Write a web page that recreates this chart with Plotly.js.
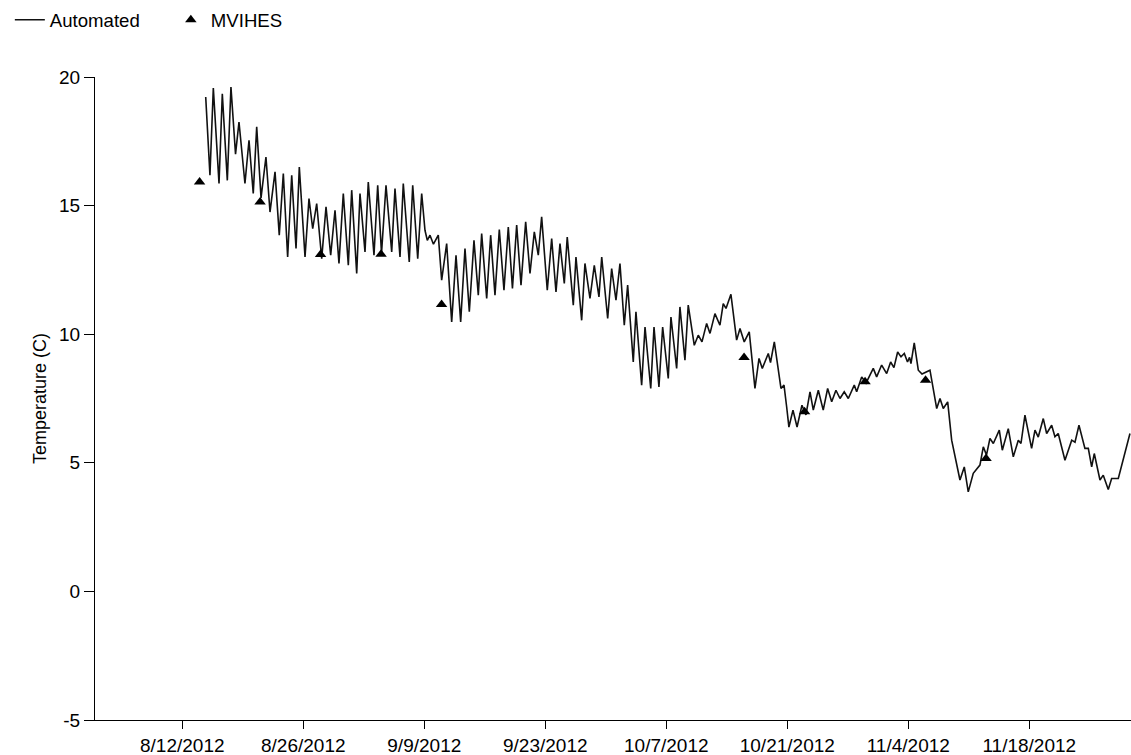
<!DOCTYPE html>
<html>
<head>
<meta charset="utf-8">
<script src="https://cdn.plot.ly/plotly-3.0.1.min.js"></script>
<style>
html,body{margin:0;padding:0;background:#fff;}
#chart{width:1131px;height:755px;}
</style>
</head>
<body>
<div id="chart"></div>
<script>
// Automated logger: turning points, as days after 2012-08-12 00:00
const autoDay = [2.71,3.20,3.59,4.25,4.63,5.21,5.63,6.16,6.56,7.25,7.72,8.21,8.61,9.11,9.68,10.15,10.73,11.22,11.69,12.19,
12.66,13.16,13.54,14.20,14.66,15.09,15.55,16.13,16.63,17.17,17.67,18.13,18.63,19.21,19.60,
20.18,20.56,21.14,21.52,22.18,22.61,23.05,23.57,24.23,24.61,25.19,25.57,26.26,26.66,27.24,27.70,28.08,28.35,28.66,29.06,
29.62,30.01,30.59,31.17,31.67,32.21,32.71,33.21,33.75,34.25,34.64,35.22,35.68,36.18,36.68,37.22,37.72,38.20,38.69,
39.19,39.73,40.23,40.73,41.19,41.58,42.23,42.74,43.24,43.70,44.20,44.54,45.24,45.55,46.21,46.59,47.17,47.67,48.21,48.53,
49.22,49.68,50.18,50.64,51.14,51.53,52.18,52.49,53.15,53.54,54.20,54.58,55.15,55.58,
56.23,56.54,57.20,57.58,58.16,58.54,59.24,59.70,60.13,60.67,61.06,61.63,62.21,62.59,62.91,63.17,63.48,64.14,64.53,65.02,
65.60,66.26,66.73,67.11,67.80,68.06,68.50,69.27,69.62,69.93,70.19,70.66,71.13,71.70,72.16,
72.63,73.01,73.59,74.16,74.67,75.14,75.63,76.10,76.59,77.06,77.75,78.03,78.61,79.11,79.95,80.34,80.92,81.50,81.96,82.34,
82.77,83.16,83.54,83.91,84.15,84.31,84.69,85.16,85.59,86.51,87.29,87.67,88.05,88.56,89.02,
89.40,89.98,90.48,90.94,91.52,92.29,92.68,93.05,93.45,93.84,94.53,94.88,95.57,96.15,96.73,97.04,97.50,98.27,98.66,99.04,
99.62,100.01,100.59,100.97,101.35,102.13,102.91,103.29,103.75,104.44,104.83,105.22,105.52,106.18,106.56,107.14,107.53,108.30,109.65];

const autoTemp = [19.22,16.18,19.57,15.86,19.35,15.98,19.61,17.0,18.25,15.86,17.54,15.47,18.06,15.3,16.89,14.75,16.31,13.85,16.25,13.0,
16.18,13.33,16.5,13.0,15.27,14.1,15.08,12.94,14.95,13.07,14.82,12.75,15.47,12.68,15.6,
12.36,15.47,13.2,15.92,13.07,15.79,13.14,15.79,13.2,15.66,13.0,15.86,12.81,15.79,12.94,15.47,14.04,13.65,13.85,13.5,
13.85,12.1,13.52,10.48,13.07,10.48,13.33,10.87,13.65,11.52,13.91,11.39,13.85,11.52,14.07,11.71,14.17,11.78,14.24,
11.91,14.37,12.36,13.98,13.07,14.56,11.71,13.72,11.64,13.52,11.97,13.78,11.13,13.0,10.54,12.75,11.39,12.68,11.45,13.0,
10.61,12.55,11.32,12.75,10.35,11.91,8.92,10.87,8.02,10.28,7.89,10.28,7.95,10.28,
8.28,10.67,8.67,11.06,8.99,11.13,9.57,9.96,9.7,10.42,10.03,10.8,10.35,11.19,11.0,11.26,11.55,9.77,10.22,9.7,
10.09,7.89,9.06,8.67,9.25,8.9,9.7,7.89,8.02,7.17,6.39,7.05,6.39,7.24,6.86,
7.76,7.05,7.82,7.05,7.89,7.37,7.82,7.5,7.76,7.5,8.02,7.76,8.34,8.1,8.67,8.34,8.8,8.47,8.92,8.7,
9.31,9.12,9.25,8.92,9.1,8.86,9.66,8.6,8.45,8.6,7.11,7.5,7.11,7.37,5.88,
5.3,4.33,4.84,3.87,4.59,4.91,5.62,5.3,5.95,5.75,6.27,5.49,6.33,5.23,5.88,5.75,6.85,5.56,6.27,6.0,
6.72,6.14,6.46,6.01,6.14,5.1,5.88,5.8,6.46,5.56,5.56,4.84,5.36,4.33,4.52,3.96,4.39,4.39,6.14];

// MVIHES manual measurements
const mvihesDate = ['2012-08-14','2012-08-21','2012-08-28','2012-09-04','2012-09-11',
                    '2012-10-16','2012-10-23','2012-10-30','2012-11-06','2012-11-13'];
const mvihesTemp = [15.92,15.14,13.10,13.11,11.15,9.09,6.98,8.15,8.21,5.17];

const tickDates = ['2012-08-12','2012-08-26','2012-09-09','2012-09-23','2012-10-07','2012-10-21','2012-11-04','2012-11-18'];
const tickLabels = ['8/12/2012','8/26/2012','9/9/2012','9/23/2012','10/7/2012','10/21/2012','11/4/2012','11/18/2012'];
const yTickVals = [-5, 0, 5, 10, 15, 20];
const yTickLabels = ['-5', '0', '5', '10', '15', '20'];

const BASE = Date.UTC(2012, 7, 12);
function dayToStr(d) {
  return new Date(BASE + d * 86400000).toISOString().slice(0, 19).replace('T', ' ');
}
const autoX = autoDay.map(dayToStr);

const FONT = 'Liberation Sans, Arial, sans-serif';

const traces = [
  {
    x: autoX, y: autoTemp, type: 'scatter', mode: 'lines', name: 'Automated',
    line: {color: '#111', width: 1.6}
  },
  {
    x: mvihesDate, y: mvihesTemp, type: 'scatter', mode: 'markers', name: 'MVIHES',
    marker: {symbol: 'triangle-up', size: 10, color: '#000'}
  }
];

const layout = {
  width: 1131, height: 755,
  margin: {l: 95, r: 0, t: 77, b: 35},
  paper_bgcolor: '#fff', plot_bgcolor: '#fff',
  font: {family: FONT, color: '#000', size: 18},
  showlegend: true,
  legend: {
    orientation: 'h', x: -0.0822, y: 1.118, xanchor: 'left', yanchor: 'top',
    font: {family: FONT, size: 18.6, color: '#000'},
    itemwidth: 30, entrywidth: 116, tracegroupgap: 0
  },
  xaxis: {
    type: 'date',
    range: [dayToStr(-10.1), dayToStr(109.77)],
    tickvals: tickDates, ticktext: tickLabels,
    ticks: 'outside', ticklen: 8, tickcolor: '#000', tickwidth: 1,
    showline: true, linecolor: '#000', linewidth: 1,
    showgrid: false, zeroline: false,
    tickfont: {family: FONT, size: 19, color: '#000'}
  },
  yaxis: {
    range: [-5, 20], tickvals: yTickVals, ticktext: yTickLabels,
    ticks: 'outside', ticklen: 10, tickcolor: '#000', tickwidth: 1,
    showline: true, linecolor: '#000', linewidth: 1,
    showgrid: false, zeroline: false,
    tickfont: {family: FONT, size: 19, color: '#000'},
    title: {text: 'Temperature (C)', font: {family: FONT, size: 18, color: '#000'}, standoff: 7}
  }
};

Plotly.newPlot('chart', traces, layout, {displayModeBar: false, staticPlot: true});
</script>
</body>
</html>
